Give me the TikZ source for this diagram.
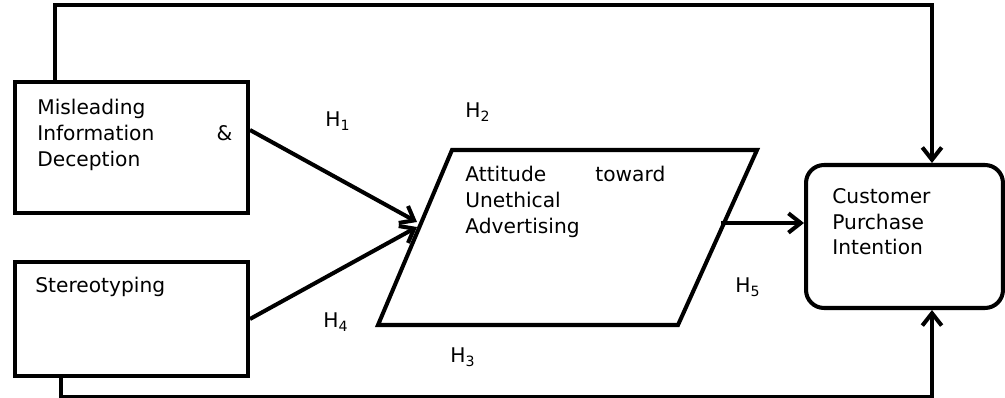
\documentclass[tikz,border=0pt]{standalone}
\usepackage{fontspec}
\setmainfont{DejaVu Sans}
\usetikzlibrary{arrows.meta,positioning}

\begin{document}
\begin{tikzpicture}[
    x=0.02cm, y=-0.02cm,
    box/.style={rectangle, draw, line width=2.3pt, minimum width=4.66cm},
    endbox/.style={rectangle, draw, line width=2.3pt, rounded corners=0.36cm, minimum width=3.94cm, minimum height=2.86cm},
    txt/.style={anchor=north west, inner sep=0pt, align=left, font=\fontsize{11.5}{14.7}\selectfont},
    hyp/.style={anchor=base west, inner sep=0pt, font=\fontsize{11.5}{14}\selectfont},
    arrow/.style={-{Straight Barb[length=7pt,width=11pt]}, line width=2.3pt}
]
\useasboundingbox (0,0) rectangle (1005,398);

% Boxes
\node[box, minimum height=2.62cm] (mis) at (131.5,147.5) {};
\node[box, minimum height=2.28cm] (ster) at (131.5,319) {};
\node[endbox] (cpi) at (904.5,236.5) {};

% Attitude (parallelogram)
\draw[line width=2.3pt] (378,325) -- (452,150) -- (757,150) -- (678,325) -- cycle;
\coordinate (in1) at (417,222);
\coordinate (in2) at (417,227);
\coordinate (att-out) at (721,223);

% Texts
\node[txt, text width=3.9cm] (mis-t) at (37,99) {Misleading\\Information\hfill\&\\Deception};
\node[txt] (ster-t) at (35,277) {Stereotyping};
\node[txt, text width=4cm] (att-t) at (465,166) {Attitude\hfill toward\\Unethical\\Advertising};
\node[txt] (cpi-t) at (832,188) {Customer\\Purchase\\Intention};

% Arrows
\draw[arrow] ([yshift=0.35cm]mis.east) -- (in1);
\draw[arrow] (ster.east) -- (in2);
\draw[arrow] (att-out) -- (att-out -| cpi.west);
\draw[arrow] ([xshift=0.84cm]mis.north west) -- ++(0,-75) -| ([xshift=0.55cm]cpi.north);
\draw[arrow] ([xshift=0.96cm]ster.south west) -- ++(0,19) -| ([xshift=0.55cm]cpi.south);

% Labels
\node[hyp] (h1) at (325,127) {H\textsubscript{1}};
\node[hyp] (h2) at (465,118) {H\textsubscript{2}};
\node[hyp] (h3) at (450,363) {H\textsubscript{3}};
\node[hyp] (h4) at (323,328) {H\textsubscript{4}};
\node[hyp] (h5) at (735,293) {H\textsubscript{5}};

\end{tikzpicture}
\end{document}
